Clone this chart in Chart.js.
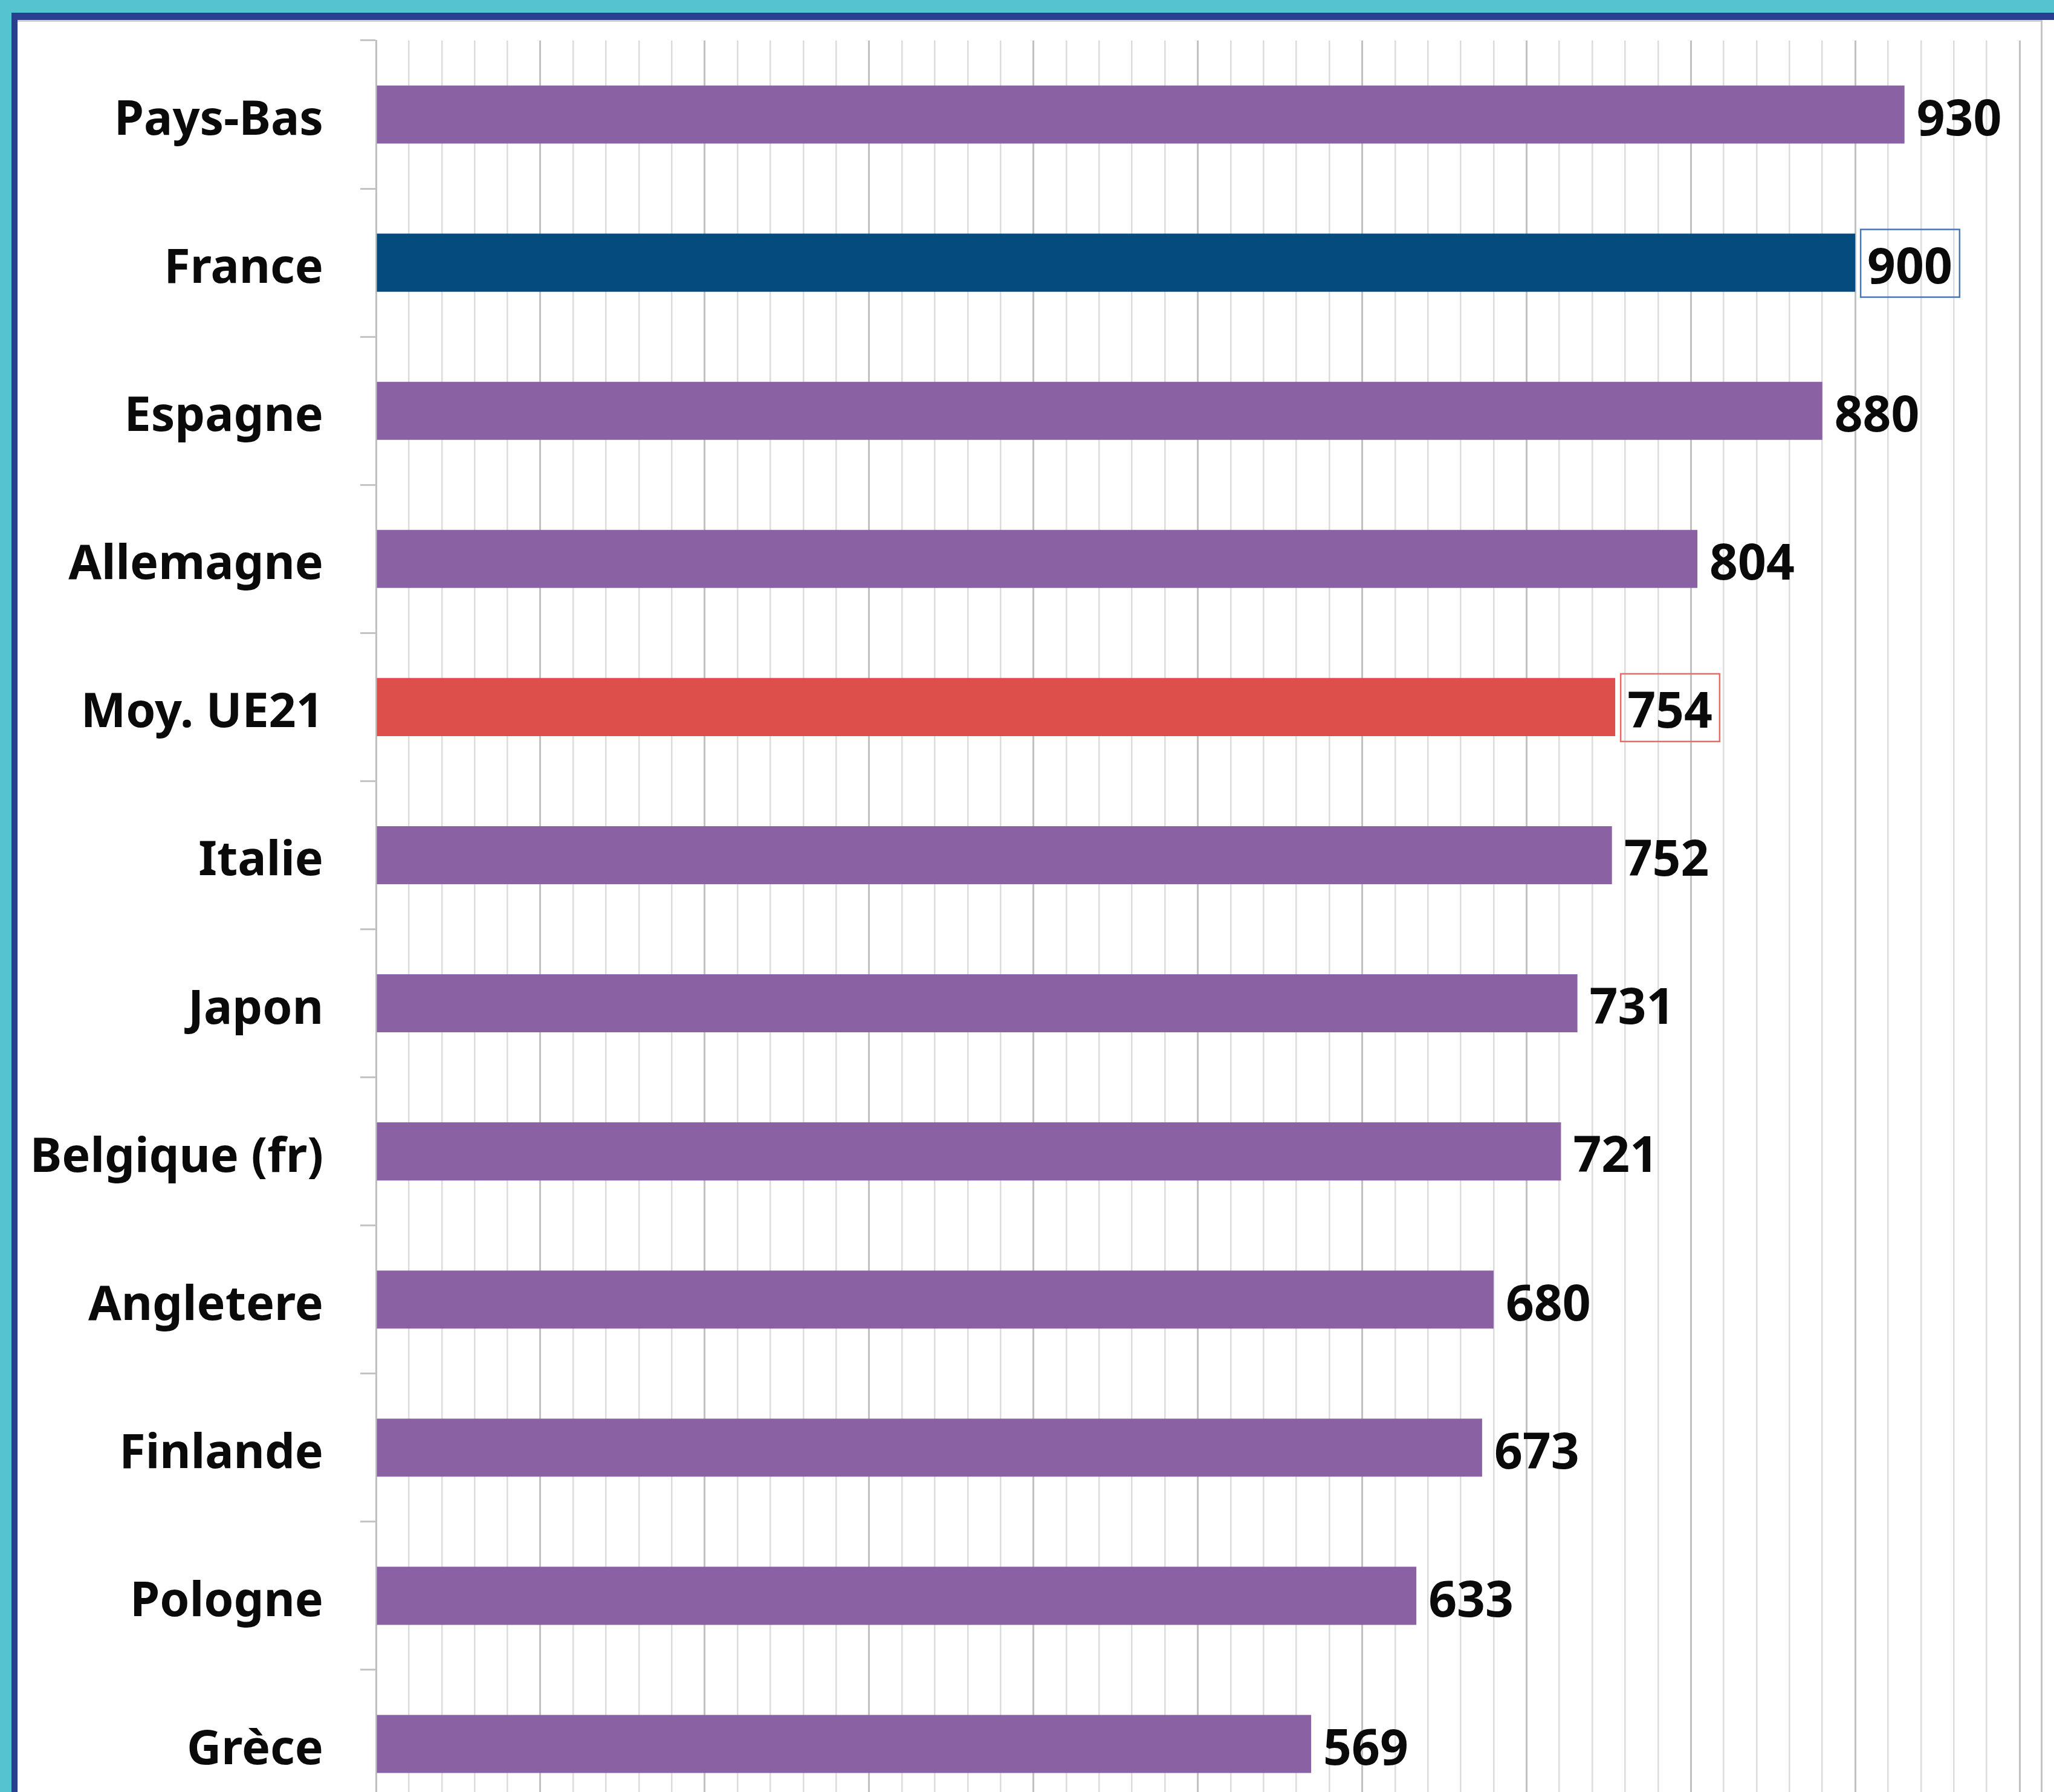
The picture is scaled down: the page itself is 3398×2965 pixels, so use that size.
<!DOCTYPE html>
<html><head><meta charset="utf-8">
<script src="https://cdn.jsdelivr.net/npm/chart.js@4/dist/chart.umd.min.js"></script>
<style>
html,body{margin:0;padding:0;background:#fff;overflow:hidden;width:3398px;height:2965px;}
#wrap{position:absolute;left:0;top:0;width:3398px;height:2965px;overflow:hidden;background:#fff;}
.b{position:absolute;}
#c{position:absolute;left:29px;top:36px;}
</style>
</head><body>
<div id="wrap">
  <canvas id="c" width="3347" height="2972"></canvas>
  <div class="b" style="left:0;top:0;width:3398px;height:21px;background:#55c3d0"></div>
  <div class="b" style="left:0;top:0;width:19px;height:2965px;background:#55c3d0"></div>
  <div class="b" style="left:19px;top:21px;width:3379px;height:12px;background:#2b3f8f"></div>
  <div class="b" style="left:19px;top:21px;width:10px;height:2944px;background:#2b3f8f"></div>
  <div class="b" style="left:29px;top:33px;width:3350px;height:3px;background:#cfcfcf"></div>
  <div class="b" style="left:3376px;top:33px;width:3px;height:2932px;background:#c4c4c4"></div>
</div>
<script>
const categories = ["Pays-Bas","France","Espagne","Allemagne","Moy. UE21","Italie","Japon","Belgique (fr)","Angletere","Finlande","Pologne","Grèce"];
const values = [930,900,880,804,754,752,731,721,680,673,633,569];
const axisMin = 0;
const axisMax = 1000;
const gridStep = 20;

const baseColor = '#8a62a3';
const barColorFor = {"France":'#064b7e',"Moy. UE21":'#dc4f4a'};
const boxColorFor = {"France":'#4a78b0',"Moy. UE21":'#e56a68'};

const valueLabels = {
  id:'valueLabels',
  afterDatasetsDraw(chart){
    const ctx = chart.ctx;
    const meta = chart.getDatasetMeta(0);
    ctx.save();
    ctx.font = 'bold 82px "Noto Sans"';
    ctx.textBaseline = 'middle';
    ctx.textAlign = 'left';
    ctx.fillStyle = '#0a0a0a';
    meta.data.forEach((bar,i)=>{
      const txt = String(values[i]);
      const x = bar.x + 20;
      ctx.fillText(txt, x, bar.y + 11);
      const bc = boxColorFor[categories[i]];
      if (bc){
        const w = ctx.measureText(txt).width;
        ctx.strokeStyle = bc;
        ctx.lineWidth = 2.5;
        ctx.strokeRect(x - 11, bar.y - 55, w + 23, 112);
      }
    });
    ctx.restore();
  }
};

new Chart(document.getElementById('c'), {
  type:'bar',
  data:{
    labels:categories,
    datasets:[{
      data:values,
      backgroundColor:categories.map(c=>barColorFor[c]||baseColor),
      borderWidth:0,
      categoryPercentage:1,
      barPercentage:0.392
    }]
  },
  options:{
    responsive:false,
    animation:false,
    indexAxis:'y',
    layout:{padding:{left:0,right:35,top:31,bottom:0}},
    plugins:{legend:{display:false},tooltip:{enabled:false}},
    scales:{
      x:{
        min:axisMin,max:axisMax,position:'bottom',
        ticks:{display:false,stepSize:gridStep,maxTicksLimit:200,autoSkip:false},
        grid:{
          drawTicks:false,
          color:c=> (c.tick && c.tick.value % 100 === 0) ? '#c2c2c2' : '#dcdcdc',
          lineWidth:c=> (c.tick && c.tick.value % 100 === 0) ? 3 : 2.5
        },
        border:{display:false},
        afterFit(s){ s.height = 0; s.paddingLeft = 0; s.paddingRight = 0; }
      },
      y:{
        ticks:{color:'#0a0a0a',font:{family:'Noto Sans',weight:'bold',size:79},padding:61,crossAlign:'near',autoSkip:false,labelOffset:11},
        grid:{offset:true,drawOnChartArea:false,drawTicks:true,tickLength:26,color:'#c4c4c4',lineWidth:3},
        border:{display:true,color:'#c0c0c0',width:3},
        afterFit(s){ s.width = 593; s.paddingTop = 0; s.paddingBottom = 0; }
      }
    }
  },
  plugins:[valueLabels]
});
</script>
</body></html>
